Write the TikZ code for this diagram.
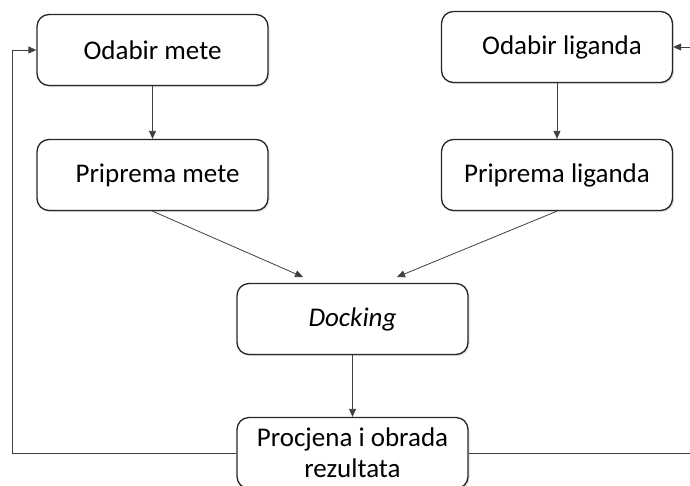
\documentclass[tikz,border=0pt]{standalone}
\usepackage{fontspec}
\setmainfont{Carlito}
\usetikzlibrary{arrows.meta,shadows}
\tikzset{
  box/.style={draw=black!85, line width=1.3pt, rounded corners=12pt, fill=white,
    minimum width=231pt, minimum height=71pt, inner sep=0pt, font=\fontsize{27}{32}\selectfont,
    drop shadow={opacity=0.25, shadow xshift=1.5pt, shadow yshift=-1.5pt}},
  conn/.style={draw=black!75, line width=0.8pt},
  arr/.style={conn, -{Triangle[width=7pt,length=8pt]}}
}
\begin{document}
\begin{tikzpicture}[x=1pt,y=-1pt]
\useasboundingbox (0,0) rectangle (690,485);
\node[box] (om) at (152.5,50) {Odabir mete};
\node[box] (pm) at (152.5,175) {\hspace{10pt}Priprema mete};
\node[box] (ol) at (557,47) {\hspace{10pt}Odabir liganda};
\node[box] (pl) at (557,175) {Priprema liganda};
\node[box] (dk) at (352.5,319) {\itshape Docking};
\node[box, align=center, font=\fontsize{27}{31}\selectfont] (pr) at (352.5,453) {Procjena i obrada\\rezultata};
\coordinate (lc) at (12,453);
\coordinate (lt) at (12,50);
\coordinate (rc) at (700,453);
\coordinate (rt) at (700,47);
\draw[arr] (om.south) -- (pm.north);
\draw[arr] (ol.south) -- (pl.north);
\draw[arr] (pm.south) -- (303,277);
\draw[arr] (pl.south) -- (397,277);
\draw[arr] (dk.south) -- (pr.north);
\draw[arr] (pr.west) -- (lc) -- (lt) -- (om.west);
\draw[arr] (pr.east) -- (rc) -- (rt) -- (ol.east);
\end{tikzpicture}
\end{document}
